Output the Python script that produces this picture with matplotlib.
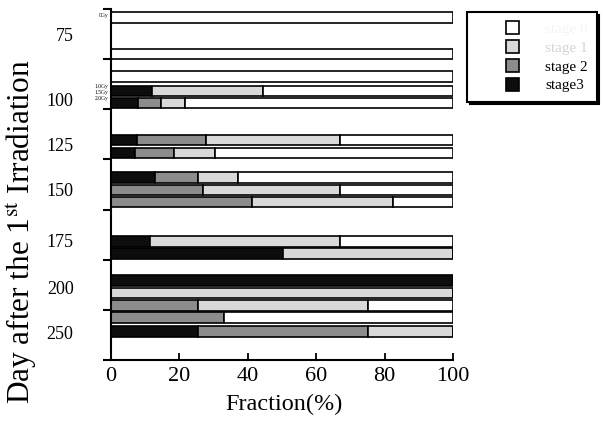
import matplotlib
matplotlib.use("Agg")
import matplotlib.pyplot as plt
from matplotlib.patches import Patch, Rectangle
from matplotlib.legend_handler import HandlerPatch
import numpy as np

plt.rcParams['font.family'] = ['Liberation Serif', 'DejaVu Serif']
plt.rcParams['mathtext.fontset'] = 'stix'

# ---- data ----
groups = ["75", "100", "125", "150", "175", "200", "250"]
label_offset = [2.07, 3.19, 2.79, 2.39, 2.47, 2.23, 1.83]   # label position inside each group
bar_group = [0, 0, 1, 1, 1, 2, 2, 3, 3, 3, 4, 4, 5, 5, 5, 6, 6]
bar_slot = [0.7, 3.6, 1.4, 2.55, 3.5, 2.45, 3.5, 1.45, 2.45, 3.4, 2.55, 3.5, 1.65, 2.65, 3.65, 0.6, 1.75]
stage3 = [0, 0, 0, 12, 8, 7.6, 7, 13, 0, 0, 11.4, 50.3, 100, 0, 0, 0, 25.4]
stage2 = [0, 0, 0, 0, 6.6, 20.2, 11.4, 12.4, 27, 41.3, 0, 0, 0, 0, 25.4, 33, 49.6]
stage1 = [0, 0, 0, 32.5, 7, 39.2, 12, 11.6, 40, 41.2, 55.6, 49.7, 0, 100, 49.6, 0, 25]
dose_labels = ["0Gy", "1.0Gy", "1.5Gy", "2.0Gy"]
dose_group = [0, 1, 1, 1]
dose_offset = [0.48, 2.15, 2.63, 3.11]
legend_labels = ["stage 0", "stage 1", "stage 2", "stage3"]

GROUP_H = 4
s3 = np.array(stage3, float)
s2 = np.array(stage2, float)
s1 = np.array(stage1, float)
s0 = 100 - s3 - s2 - s1
ypos = np.array(bar_group) * GROUP_H + np.array(bar_slot)

c_black, c_dark, c_light, c_white = '#0d0d0d', '#8c8c8c', '#d9d9d9', '#ffffff'

fig = plt.figure(figsize=(6.03, 4.23), dpi=100)
ax = fig.add_axes([111/603, 1 - 360/423, 342/603, 351/423])

h = 0.85
kw = dict(height=h, edgecolor='black', linewidth=1.2)
ax.barh(ypos, s3, left=0, color=c_black, **kw)
ax.barh(ypos, s2, left=s3, color=c_dark, **kw)
ax.barh(ypos, s1, left=s3 + s2, color=c_light, **kw)
ax.barh(ypos, s0, left=s3 + s2 + s1, color=c_white, **kw)

ax.set_xlim(0, 100)
ax.set_ylim(len(groups) * GROUP_H, 0)

for s in ['top', 'right']:
    ax.spines[s].set_visible(False)
for s in ['left', 'bottom']:
    ax.spines[s].set_linewidth(1.5)

ax.set_xticks([0, 20, 40, 60, 80, 100])
ax.tick_params(axis='x', direction='in', length=5, width=1.3, labelsize=16, pad=5)

ax.set_yticks(np.arange(len(groups)) * GROUP_H + np.array(label_offset))
ax.set_yticklabels(groups)
ax.tick_params(axis='y', which='major', length=0, pad=27, labelsize=13)
ax.set_yticks(np.arange(len(groups) + 1) * GROUP_H, minor=True)
ax.tick_params(axis='y', which='minor', direction='out', length=6, width=1.5)

for lab, g, off in zip(dose_labels, dose_group, dose_offset):
    ax.annotate(lab, xy=(0, g * GROUP_H + off), xytext=(-2, 0), textcoords='offset points',
                ha='right', va='center', fontsize=4)

ax.set_xlabel("Fraction(%)", fontsize=17.5, va='center')
ax.xaxis.set_label_coords(0.506, -0.128)
ax.set_ylabel("Day after the 1$^{\\rm st}$ Irradiation", fontsize=22.5, va='center')
ax.yaxis.set_label_coords(-0.258, 0.365)


def square_right(legend, orig_handle, xdescent, ydescent, width, height, fontsize):
    side = height
    return Rectangle((-xdescent + width - side, -ydescent), side, side)


handles = [Patch(facecolor=c, edgecolor='black', linewidth=1.2) for c in [c_white, c_light, c_dark, c_black]]
leg = fig.legend(handles, legend_labels, loc='upper left', bbox_to_anchor=(467/603, 1 - 12/423),
                 borderaxespad=0, fontsize=11, handlelength=2.8, handleheight=0.9, labelspacing=0.28,
                 handletextpad=1.7, borderpad=0.6, fancybox=False, framealpha=1,
                 edgecolor='black', shadow={'color': 'black', 'alpha': 1},
                 handler_map={Patch: HandlerPatch(patch_func=square_right)})
leg.get_frame().set_linewidth(1.5)
leg.get_texts()[0].set_color('#f4f4f4')
leg.get_texts()[1].set_color('#d4d4d4')

fig.savefig("out.png", dpi=100)
